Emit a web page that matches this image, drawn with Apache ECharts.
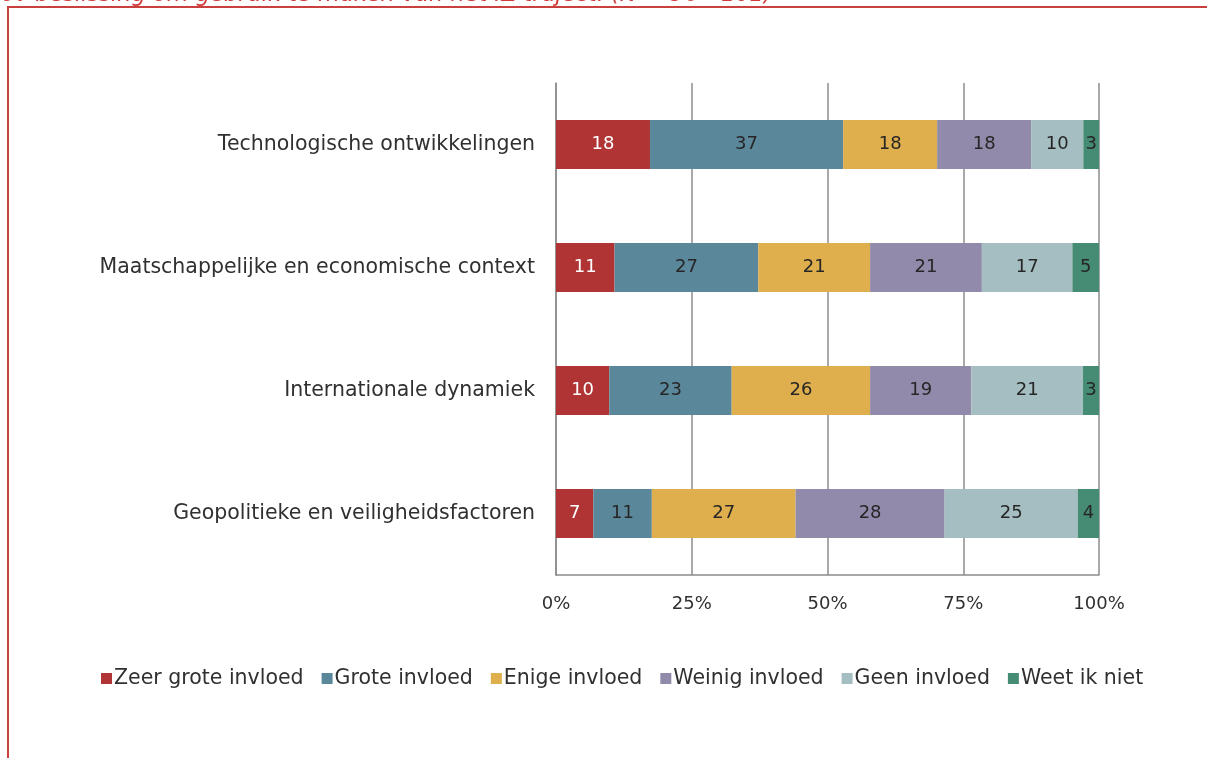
<!DOCTYPE html>
<html>
<head>
<meta charset="utf-8">
<script src="https://cdn.jsdelivr.net/npm/echarts@6/dist/echarts.min.js"></script>
<style>
html,body{margin:0;padding:0;background:#fff;}
#chart{width:1207px;height:758px;}
</style>
</head>
<body>
<div id="chart"></div>
<script>
const titleText = "ov beslissing om gebruik te maken van het IZ-traject. (N = 96 - 101)";
const categories = [
  "Technologische ontwikkelingen",
  "Maatschappelijke en economische context",
  "Internationale dynamiek",
  "Geopolitieke en veiligheidsfactoren"
];
const seriesNames = ["Zeer grote invloed","Grote invloed","Enige invloed","Weinig invloed","Geen invloed","Weet ik niet"];
const zeerGroot = [18, 11, 10, 7];
const groot     = [37, 27, 23, 11];
const enige     = [18, 21, 26, 27];
const weinig    = [18, 21, 19, 28];
const geen      = [10, 17, 21, 25];
const weetNiet  = [3, 5, 3, 4];
const xTicks = [0, 25, 50, 75, 100];

const colors = ["#b03434","#5b879b","#dfae4d","#928aaa","#a5bec1","#468b73"];
const labelColors = ["#ffffff","#262626","#262626","#262626","#262626","#262626"];
const allVals = [zeerGroot, groot, enige, weinig, geen, weetNiet];
const totals = categories.map((c,i)=>allVals.reduce((s,a)=>s+a[i],0));
const FONT = "'DejaVu Sans', sans-serif";

const series = allVals.map((arr,si)=>({
  name: seriesNames[si],
  type: 'bar',
  stack: 'total',
  barWidth: 49,
  itemStyle: {color: colors[si]},
  label: {
    show: true,
    position: 'inside',
    color: labelColors[si],
    fontSize: 18,
    fontFamily: FONT,
    formatter: p => arr[p.dataIndex]
  },
  data: arr.map((v,i)=> v / totals[i] * 100)
}));

const chart = echarts.init(document.getElementById('chart'));
chart.setOption({
  animation: false,
  title: {
    text: titleText,
    left: -4,
    top: -21,
    textStyle: {color:'#d23b3b', fontStyle:'italic', fontWeight:'normal', fontSize:22.5, fontFamily: FONT}
  },
  graphic: [{
    type: 'polyline',
    shape: {points: [[8,760],[8,7],[1210,7]]},
    style: {stroke:'#c8413f', lineWidth:2, fill:null}
  }],
  grid: {left:556, right:108, top:83, bottom:183},
  legend: {
    data: seriesNames,
    top: 663,
    left: 96,
    itemWidth: 11,
    itemHeight: 11,
    itemGap: 18,
    icon: 'rect',
    textStyle: {fontSize:20.5, color:'#303030', fontFamily: FONT, padding:[0,0,0,-3]}
  },
  xAxis: {
    type: 'value',
    min: 0, max: 100, interval: 25,
    axisLine: {show:true, lineStyle:{color:'#8c8c8c', width:1.5}},
    axisTick: {show:false},
    splitLine: {show:true, lineStyle:{color:'#8c8c8c', width:1.5}},
    axisLabel: {formatter: v => xTicks.includes(v) ? v + '%' : '', fontSize:18, color:'#303030', fontFamily: FONT, margin:20}
  },
  yAxis: {
    type: 'category',
    inverse: true,
    data: categories,
    axisLine: {show:true, lineStyle:{color:'#8c8c8c', width:1.5}},
    axisTick: {show:false},
    axisLabel: {fontSize:20.5, color:'#303030', fontFamily: FONT, margin:21}
  },
  series: series
});
</script>
</body>
</html>
